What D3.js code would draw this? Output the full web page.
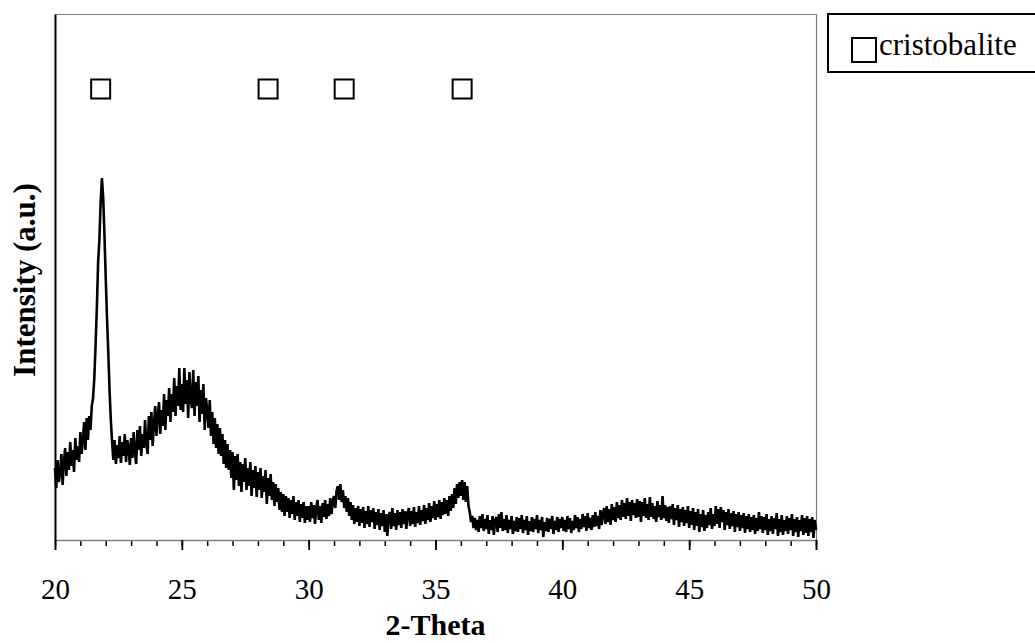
<!DOCTYPE html>
<html>
<head>
<meta charset="utf-8">
<script src="https://cdn.jsdelivr.net/npm/d3@7"></script>
<style>
  html, body { margin: 0; padding: 0; background: #fff; }
  svg { display: block; font-family: "Times New Roman", "Liberation Serif", serif; }
</style>
</head>
<body>
<svg id="chart" width="1035" height="643"></svg>
<script>
// ---- Data (2-Theta scan 20..50 deg, step 0.05 deg; intensity in arbitrary units) ----
const scanStart = 20;
const scanStep = 0.05;
const intensity20to25 = [72,52,80,58,66,86,55,78,92,64,88,70,98,74,90,68,102,80,94,78,
  108,86,100,118,90,122,100,124,110,134,142,162,195,232,278,300,338,362,342,305,
  262,222,188,150,120,98,80,100,76,95,82,104,77,98,84,106,78,100,92,75,
  102,82,108,88,76,110,90,114,84,106,92,120,96,86,124,100,128,94,116,134,
  104,124,138,106,130,114,146,110,140,124,152,118,146,128,162,124,154,134,172,130];
const intensity25to30 = [156,128,172,136,160,122,168,140,132,170,124,158,134,164,118,150,126,156,110,142,
  130,112,140,104,128,96,122,92,116,86,112,84,106,76,100,72,96,70,90,62,
  88,50,84,60,86,54,78,48,76,58,82,50,72,54,78,44,70,52,74,43,
  68,50,72,42,64,48,70,36,62,44,66,40,58,34,56,38,52,30,48,28,
  46,24,44,28,42,22,40,26,44,20,38,24,40,18,36,22,38,17,34,20];
const intensity30to35 = [34,18,38,22,35,16,32,40,20,34,17,37,23,40,21,36,24,42,26,39,
  44,32,49,54,40,56,38,50,32,44,28,42,24,38,20,35,16,32,18,34,
  14,31,17,33,12,29,16,34,13,30,18,32,11,28,15,31,10,27,14,30,
  8,26,4,24,28,11,32,14,27,10,30,15,28,12,31,16,29,11,26,32,
  14,29,16,33,13,28,17,34,15,30,19,35,16,32,20,37,18,34,22,39];
const intensity35to40 = [20,36,23,40,21,38,25,42,26,40,24,44,29,46,32,52,36,56,42,58,
  44,60,40,58,38,54,34,28,18,24,12,22,10,20,8,24,12,26,9,21,
  11,25,6,20,10,24,5,19,23,8,26,12,28,9,21,10,25,7,20,11,
  24,6,19,9,23,8,22,11,25,7,20,10,24,5,19,9,23,8,21,11,
  25,7,20,10,23,3,18,9,22,8,21,11,24,6,19,10,23,8,21,12];
const intensity40to45 = [23,9,20,8,24,11,22,7,19,10,25,12,23,8,21,11,26,13,24,9,
  27,12,22,10,25,13,28,14,24,11,30,15,26,32,16,34,18,31,15,36,
  20,33,18,38,22,35,20,40,23,37,21,42,24,38,19,40,25,37,22,41,
  23,39,18,38,24,42,22,36,20,43,23,37,21,34,18,39,23,35,20,44,
  22,35,19,33,17,34,21,36,15,32,20,35,13,31,18,33,14,30,17,34];
const intensity45to50 = [12,29,15,32,10,28,14,31,8,26,13,30,9,25,12,28,15,32,11,26,
  14,34,16,31,12,33,18,30,10,28,15,31,11,27,14,29,8,26,13,28,
  9,25,12,27,7,24,11,26,8,23,10,25,6,22,9,28,11,24,7,23,
  10,26,5,21,9,24,6,22,11,27,4,21,8,25,5,20,9,24,6,22,
  10,26,4,21,8,23,3,20,9,25,5,22,7,24,4,21,8,23,2,20,10];

// cristobalite reference reflections (2-Theta) and the marker row level
const cristobalitePeaks = [21.8, 28.4, 31.4, 36.05];
const markerLevel = 451;
const legendLabels = ["cristobalite"];

// x-axis ticks
const majorTicks = [20, 25, 30, 35, 40, 45, 50];
const minorTicks = d3.range(20, 51, 1);

const xTitle = "2-Theta";
const yTitle = "Intensity (a.u.)";

// ---- Build series ----
const intensities = [].concat(intensity20to25, intensity25to30, intensity30to35,
  intensity35to40, intensity40to45, intensity45to50);
const pattern = intensities.map((v, i) => ({ t: +(scanStart + i * scanStep).toFixed(2), v }));

// ---- Layout ----
const svg = d3.select("#chart");
const plot = { left: 55, right: 816, top: 14, bottom: 540 };
const fontSerif = "'Times New Roman', 'Liberation Serif', serif";

const x = d3.scaleLinear().domain([20, 50]).range([plot.left, plot.right]);
const y = d3.scaleLinear().domain([0, 526]).range([plot.bottom, plot.top]);

svg.append("rect").attr("width", 1035).attr("height", 643).attr("fill", "#fff");

// plot frame (top/right grey)
svg.append("line").attr("x1", plot.left).attr("x2", plot.right)
  .attr("y1", plot.top + 0.5).attr("y2", plot.top + 0.5)
  .attr("stroke", "#7f7f7f").attr("stroke-width", 1.2);
svg.append("line").attr("x1", plot.right + 0.5).attr("x2", plot.right + 0.5)
  .attr("y1", plot.top).attr("y2", plot.bottom)
  .attr("stroke", "#7f7f7f").attr("stroke-width", 1.2);

// data line
const line = d3.line().x(d => x(d.t)).y(d => y(d.v));
svg.append("path").datum(pattern)
  .attr("d", line)
  .attr("fill", "none")
  .attr("stroke", "#000")
  .attr("stroke-width", 2.6)
  .attr("stroke-linejoin", "miter")
  .attr("stroke-miterlimit", 2);

// x axis: minor ticks
const minorAxis = d3.axisBottom(x).tickValues(minorTicks).tickSize(6).tickFormat("");
const gMinor = svg.append("g").attr("transform", `translate(0,${plot.bottom})`).call(minorAxis);
gMinor.select(".domain").remove();
gMinor.selectAll(".tick line").attr("stroke", "#000").attr("stroke-width", 1.5);

// x axis: major ticks + labels
const majorAxis = d3.axisBottom(x).tickValues(majorTicks).tickSize(10).tickPadding(28)
  .tickFormat(d3.format("d"));
const gMajor = svg.append("g").attr("transform", `translate(0,${plot.bottom})`).call(majorAxis);
gMajor.attr("font-family", fontSerif);
gMajor.select(".domain").attr("stroke", "#7f7f7f").attr("stroke-width", 1.5);
gMajor.selectAll(".tick line").attr("stroke", "#000").attr("stroke-width", 1.8);
gMajor.selectAll(".tick text")
  .attr("font-family", fontSerif).attr("font-size", 29).attr("fill", "#000");

// y axis line (no ticks)
const yAxis = d3.axisLeft(y).tickValues([]).tickSizeOuter(0);
const gY = svg.append("g").attr("transform", `translate(${plot.left},0)`).call(yAxis);
gY.select(".domain").attr("stroke", "#000").attr("stroke-width", 2);

// cristobalite markers
svg.append("g").selectAll("rect").data(cristobalitePeaks).join("rect")
  .attr("x", d => x(d) - 9.5)
  .attr("y", y(markerLevel) - 9.5)
  .attr("width", 19).attr("height", 19)
  .attr("fill", "#fff").attr("stroke", "#000").attr("stroke-width", 2);

// axis titles
svg.append("text")
  .attr("x", (plot.left + plot.right) / 2).attr("y", 635)
  .attr("text-anchor", "middle")
  .attr("font-family", fontSerif).attr("font-size", 30).attr("font-weight", "bold")
  .text(xTitle);
svg.append("text")
  .attr("transform", "translate(35,280) rotate(-90)")
  .attr("text-anchor", "middle")
  .attr("font-family", fontSerif).attr("font-size", 31).attr("font-weight", "bold")
  .text(yTitle);

// legend
const legend = svg.append("g");
legend.append("rect").attr("x", 828).attr("y", 14).attr("width", 240).attr("height", 58)
  .attr("fill", "#fff").attr("stroke", "#000").attr("stroke-width", 2);
legend.selectAll("rect.key").data(legendLabels).join("rect").attr("class", "key")
  .attr("x", 852).attr("y", 38).attr("width", 24).attr("height", 24)
  .attr("fill", "#fff").attr("stroke", "#000").attr("stroke-width", 2);
legend.selectAll("text.lbl").data(legendLabels).join("text").attr("class", "lbl")
  .attr("x", 879).attr("y", 55)
  .attr("font-family", fontSerif).attr("font-size", 31).attr("fill", "#000")
  .text(d => d);
</script>
</body>
</html>
